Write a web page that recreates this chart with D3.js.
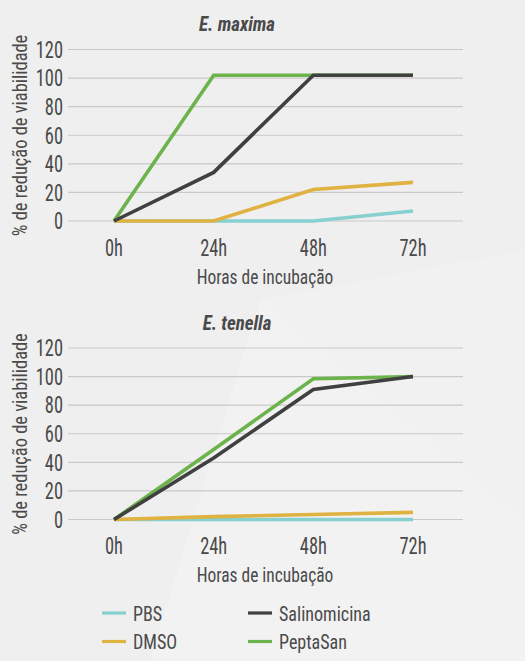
<!DOCTYPE html>
<html><head><meta charset="utf-8">
<script src="https://cdn.jsdelivr.net/npm/d3@7"></script>
<style>
html,body{margin:0;padding:0;background:#efefef;}
text{font-family:"Liberation Sans Narrow","Roboto Condensed","Liberation Sans",sans-serif;fill:#4a4a4a;}
</style></head>
<body>
<svg id="c" width="525" height="661"></svg>
<script>
const hours = ["0h","24h","48h","72h"];
const yTicks = [0,20,40,60,80,100,120];
const seriesNames = ["PBS","DMSO","Salinomicina","PeptaSan"];
const seriesColors = ["#86d0cf","#dfb241","#404040","#6db34b"];
// E. maxima
const maxPBS = [0,0,0,7];
const maxDMSO = [0,0,22,27];
const maxSal = [0,34,102,102];
const maxPep = [0,102,102,102];
// E. tenella
const tenPBS = [0,0,0,0];
const tenDMSO = [0,2,3.5,5];
const tenSal = [0,43,91,100];
const tenPep = [0,49,98.5,100];

const svg = d3.select("#c");
svg.append("rect").attr("width",525).attr("height",661).attr("fill","#efefef");
// subtle background facets
svg.append("path").attr("d","M150,661 L260,300 L525,520 L525,661 Z").attr("fill","#f2f2f2");
svg.append("path").attr("d","M260,300 L525,250 L525,520 Z").attr("fill","#f1f1f1");

function txt(parent, x, y, s, size, sx, anchor, rot){
  const t = parent.append("text")
    .attr("transform",`translate(${x},${y})${rot?` rotate(${rot})`:""} scale(${sx},1)`)
    .attr("text-anchor",anchor).attr("font-size",size).text(s);
  return t;
}

function panel(top, title, data){
  const g = svg.append("g");
  const x = d3.scalePoint().domain(hours).range([114,413]);
  const y = d3.scaleLinear().domain([0,120]).range([top+171.5, top]);
  g.selectAll(".grid").data(yTicks).join("line")
    .attr("x1",68).attr("x2",463)
    .attr("y1",d=>y(d)).attr("y2",d=>y(d))
    .attr("stroke","#c9c9c9").attr("stroke-width",1.2);
  yTicks.forEach(d=>{
    txt(g,63,y(d),d,23,0.8,"end").attr("dy","0.36em");
  });
  hours.forEach(h=>{
    txt(g,x(h),top+206,h,23,0.8,"middle");
  });
  txt(g,265,top+234,"Horas de incubação",21,0.83,"middle");
  txt(g,27,top+86,"% de redução de viabilidade",20.5,0.9,"middle",-90);
  txt(g,237,top-18.5,title,19.5,0.97,"middle")
    .attr("font-weight","bold").attr("font-style","italic");
  const line = d3.line().x((d,i)=>x(hours[i])).y(d=>y(d));
  const order = [0,1,3,2];
  order.forEach(i=>{
    g.append("path").datum(data[i]).attr("d",line).attr("fill","none")
      .attr("stroke",seriesColors[i]).attr("stroke-width",3.6)
      .attr("stroke-linejoin","miter");
  });
}
panel(49.5, "E. maxima", [maxPBS,maxDMSO,maxSal,maxPep]);
panel(348, "E. tenella", [tenPBS,tenDMSO,tenSal,tenPep]);

// legend
const lx = [102,102,248,248], ly=[613,641.5,613,641.5];
seriesNames.forEach((n,i)=>{
  svg.append("line").attr("x1",lx[i]).attr("x2",lx[i]+24).attr("y1",ly[i]).attr("y2",ly[i])
    .attr("stroke",seriesColors[i]).attr("stroke-width",3.2);
  txt(svg,lx[i]+31,ly[i],n,21,0.86,"start").attr("dy","0.36em");
});
</script>
</body></html>
